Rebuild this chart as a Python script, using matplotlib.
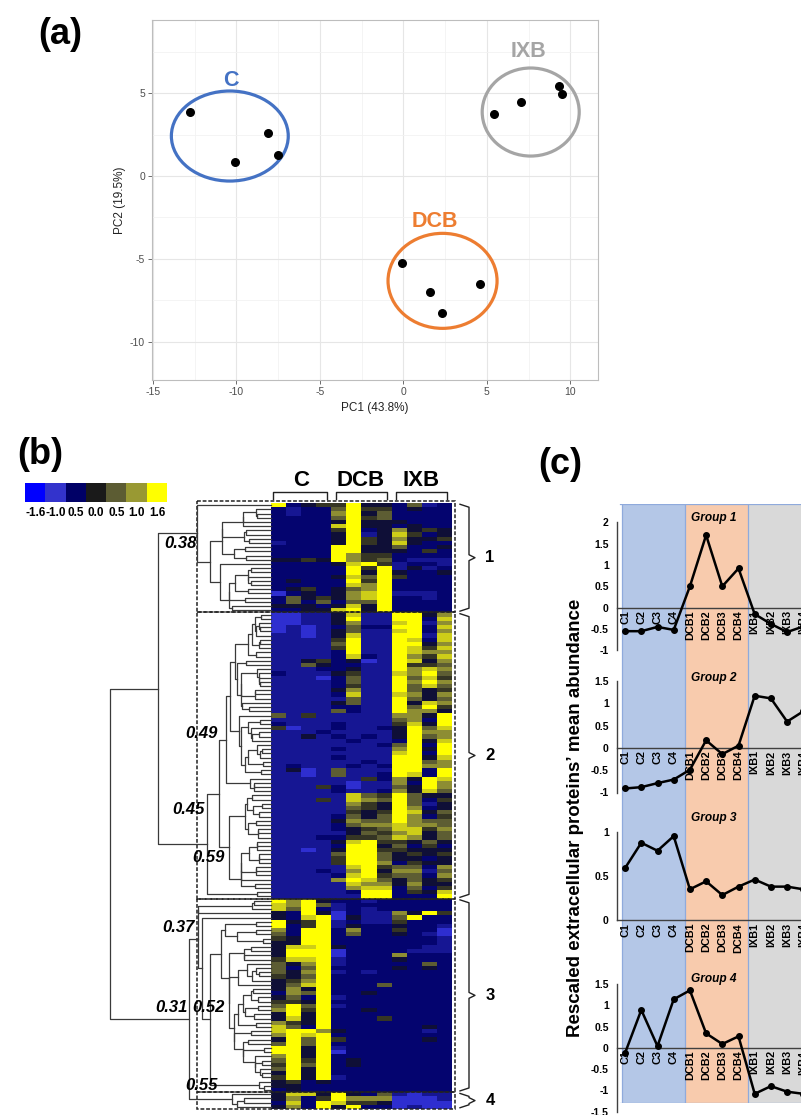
import numpy as np
import matplotlib
matplotlib.use("Agg")
import matplotlib.pyplot as plt
from matplotlib.patches import Ellipse, Rectangle
from matplotlib.colors import LinearSegmentedColormap, ListedColormap
import matplotlib.transforms as mtransforms

plt.rcParams['font.family'] = ['Liberation Sans', 'DejaVu Sans']
plt.rcParams['axes.unicode_minus'] = False

W, H = 801, 1115

# ---------------- data: panel (a) PCA ----------------
pca_groups = ['C', 'DCB', 'IXB']
pca_colors = ['#4472C4', '#ED7D31', '#A5A5A5']
pc1_C = [-12.8, -10.1, -8.1, -7.5]
pc2_C = [3.9, 0.85, 2.6, 1.3]
pc1_DCB = [-0.1, 1.6, 2.3, 4.6]
pc2_DCB = [-5.25, -7.0, -8.3, -6.5]
pc1_IXB = [5.45, 7.05, 9.3, 9.5]
pc2_IXB = [3.75, 4.45, 5.45, 4.95]
ell_cx = [-10.39, 2.35, 7.63]
ell_cy = [2.42, -6.33, 3.87]
ell_w = [7.0, 6.53, 5.81]
ell_h = [5.44, 5.74, 5.32]
lab_x = [-10.3, 1.9, 7.5]
lab_y = [5.8, -2.76, 7.5]
xticks_a = [-15, -10, -5, 0, 5, 10]
yticks_a = [-10, -5, 0, 5]

# ---------------- data: panel (b) heatmap ----------------
samples = ['C1', 'C2', 'C3', 'C4', 'DCB1', 'DCB2', 'DCB3', 'DCB4',
           'IXB1', 'IXB2', 'IXB3', 'IXB4']
col_groups = ['C', 'DCB', 'IXB']
legend_values = [-1.6, -1.0, -0.5, 0.0, 0.5, 1.0, 1.6]
legend_labels = ['-1.6', '-1.0', '0.5', '0.0', '0.5', '1.0', '1.6']
legend_colors = ['#0000FF', '#3333CC', '#000066', '#1A1A1A', '#5C5C33', '#999933', '#FFFF00']
level_values = [-1.6, -1.05, -0.72, -0.55, -0.2, 0.2, 0.5, 0.9, 1.3, 1.6]

group1_rows = [
    "934559443623", "323369553433", "323379463333", "333369563333", "333349444333",
    "333389443433", "333359347454", "333349248534", "333349547445", "233349548433",
    "333399446334", "333399444353", "333397553333", "445497563222", "333348952332",
    "333339592423", "333339494334", "333348695333", "343339593333", "333338793333",
    "345346793333", "134347892223", "364547893323", "363636693333", "444348493333",
    "334489493333"]
group2_rows = [
    "112248229947", "112249229938", "112247228927", "121236339938", "121246228937",
    "221248229928", "222259229838", "222269229947", "222259229858", "222239229877",
    "222238329758", "224534129847", "226433229556", "222334229787", "322245228796",
    "222136229685", "222236229797", "222235229686", "222247229645", "222238228747",
    "222226229646", "222246229487", "222233229695", "222263229774", "625222227749",
    "222222226739", "322232225849", "512232234968", "222322224977", "224232324967",
    "222223223948", "222222236939", "222232227949", "222222228939", "222232229948",
    "222222329967", "232223239977", "241262229939", "221262239839", "222222537498",
    "222221227397", "222531226497", "222232237486", "222228659644", "222528769635",
    "222227549624", "222226549734", "222225459846", "222236469735", "222247669766",
    "222236778776", "222234568857", "222224657846", "222335568746", "222248955464",
    "222239946353", "221249955444", "222269964545", "222259964434", "222259973544",
    "222228956637", "222327947726", "222238956637", "222279864645", "222228774744",
    "222227883635", "222223993548", "222222993339"]
group3_rows = [
    "979433233333", "879623333333", "869323233333", "439413227495", "438914226933",
    "945923225333", "935924334332", "739937335331", "639936334321", "549933333332",
    "449933333332", "488943333322", "499913333222", "499913337333", "588923334333",
    "647923333363", "636933334343", "647923233333", "546933333333", "457933333333",
    "468933363333", "474933333333", "376933433333", "463923333333", "554933333333",
    "696923333333", "795933433333", "494933333333", "484933353333", "754933333333",
    "863933333343", "899743333323", "798933333333", "496953333343", "696933333333",
    "994923333333", "994913333333", "794933333333", "695934333333", "596934333333",
    "694933333333", "494933333333", "594923333333", "453433333333", "443333333333",
    "343333333333"]
group4_rows = ["488494362122", "473597771112", "383985541111", "473949331211"]
row_groups = ['1', '2', '3', '4']
# cluster correlation annotations
corr_labels = ['0.38', '0.49', '0.45', '0.59', '0.37', '0.31', '0.52', '0.55']

# ---------------- data: panel (c) profiles ----------------
profile_g1 = [-0.55, -0.55, -0.45, -0.52, 0.5, 1.7, 0.5, 0.92, -0.15, -0.38, -0.57, -0.44]
profile_g2 = [-0.91, -0.88, -0.79, -0.71, -0.49, 0.17, -0.14, 0.05, 1.17, 1.11, 0.59, 0.82]
profile_g3 = [0.59, 0.875, 0.785, 0.95, 0.35, 0.44, 0.285, 0.38, 0.46, 0.38, 0.38, 0.35]
profile_g4 = [-0.12, 0.89, 0.04, 1.14, 1.35, 0.34, 0.09, 0.27, -1.08, -0.9, -1.03, -1.08]
band_colors = ['#B4C7E7', '#F8CBAD', '#D9D9D9']

# ======================================================
fig = plt.figure(figsize=(W / 100, H / 100), dpi=100)


def add_ax(x0, y0, x1, y1, **kw):
    return fig.add_axes([x0 / W, 1 - y1 / H, (x1 - x0) / W, (y1 - y0) / H], **kw)


# ---------------- panel (a) ----------------
axa = add_ax(152, 20, 598, 380)
axa.set_xlim(-15.05, 11.66)
axa.set_ylim(-12.32, 9.43)
axa.set_xticks(xticks_a)
axa.set_yticks(yticks_a)
axa.set_xticks([-12.5, -7.5, -2.5, 2.5, 7.5], minor=True)
axa.set_yticks([-7.5, -2.5, 2.5, 7.5], minor=True)
axa.grid(True, which='major', color='#E6E6E6', lw=0.8)
axa.grid(True, which='minor', color='#F2F2F2', lw=0.6)
axa.set_axisbelow(True)
axa.tick_params(which='major', length=3, width=0.6, color='#555555',
                labelsize=7.5, labelcolor='#4D4D4D', pad=2)
axa.tick_params(which='minor', length=0)
for s in axa.spines.values():
    s.set_color('#BDBDBD')
    s.set_linewidth(0.8)
pcx = [pc1_C, pc1_DCB, pc1_IXB]
pcy = [pc2_C, pc2_DCB, pc2_IXB]
for i, g in enumerate(pca_groups):
    axa.scatter(pcx[i], pcy[i], s=30, color='black', zorder=3)
    axa.add_patch(Ellipse((ell_cx[i], ell_cy[i]), ell_w[i], ell_h[i], fill=False,
                          ec=pca_colors[i], lw=2.3, zorder=2))
    axa.text(lab_x[i], lab_y[i], g, color=pca_colors[i], fontsize=15.5,
             fontweight='bold', ha='center', va='center')
axa.set_xlabel('PC1 (43.8%)', fontsize=8.5, color='#222222', labelpad=4)
axa.set_ylabel('PC2 (19.5%)', fontsize=8.5, color='#222222', labelpad=3)

# ---------------- panel (b) ----------------
lev = np.array(level_values)
blocks = [group1_rows, group2_rows, group3_rows, group4_rows]
mats = [np.array([[lev[int(c)] for c in r] for r in b]) for b in blocks]
heat = np.vstack(mats)
nrows, ncols = heat.shape

hm_x0, hm_x1, hm_y0, hm_y1 = 271, 451, 503, 1109
cmap = LinearSegmentedColormap.from_list(
    'by', [((v + 1.6) / 3.2, c) for v, c in zip(legend_values, legend_colors)])
axh = add_ax(hm_x0, hm_y0, hm_x1, hm_y1)
axh.imshow(heat, cmap=cmap, vmin=-1.6, vmax=1.6, aspect='auto',
           interpolation='nearest', extent=(0, ncols, nrows, 0))
axh.set_xlim(0, ncols)
axh.set_ylim(nrows, 0)
axh.axis('off')

colw = (hm_x1 - hm_x0) / ncols
rowh = (hm_y1 - hm_y0) / nrows


def px2col(x):
    return (x - hm_x0) / colw


def px2row(y):
    return (y - hm_y0) / rowh


# column group labels and brackets
for k, g in enumerate(col_groups):
    c0, c1 = 4 * k, 4 * k + 4
    axh.text((c0 + c1) / 2, px2row(481), g, fontsize=16, fontweight='bold',
             ha='center', va='center', clip_on=False)
    a0 = c0 + 0.15 if k == 0 else c0 + 0.3
    a1 = c1 - 0.25
    axh.plot([a0, a0, a1, a1], [px2row(499), px2row(492), px2row(492), px2row(499)],
             color='#222222', lw=1.0, clip_on=False)

# dashed group boxes, braces and labels
starts = np.cumsum([0] + [len(b) for b in blocks])
bx0, bx1 = px2col(197), px2col(455)
for k in range(len(blocks)):
    r0, r1 = starts[k], starts[k + 1]
    top = r0 if k > 0 else px2row(501)
    axh.add_patch(Rectangle((bx0, top), bx1 - bx0, r1 - top, fill=False,
                            ls=(0, (2.5, 1.2)), lw=1.1, ec='#222222', clip_on=False))
    t, b = r0 + 0.3, r1 - 0.3
    mid = (t + b) / 2
    d = min(0.7, (b - t) / 4)
    xa, xb, xc = px2col(460), px2col(469), px2col(475)
    axh.plot([xa, xb, xb, xc, xb, xb, xa],
             [t, t + d, mid - d, mid, mid + d, b - d, b],
             color='#222222', lw=1.0, clip_on=False)
    axh.text(px2col(490), mid, row_groups[k], fontsize=12, fontweight='bold',
             ha='center', va='center', clip_on=False)


# dendrogram (order-preserving average-linkage on heatmap rows)
def adjacent_tree(mat):
    clusters = [(i, [i], 0.0) for i in range(len(mat))]
    while len(clusters) > 1:
        best = None
        for k in range(len(clusters) - 1):
            a = mat[clusters[k][1]]
            b = mat[clusters[k + 1][1]]
            dd = np.sqrt(((a[:, None, :] - b[None, :, :]) ** 2).sum(-1)).mean()
            if best is None or dd < best[0]:
                best = (dd, k)
        dd, k = best
        na, ma, ha = clusters[k]
        nb, mb, hb = clusters[k + 1]
        h = max(dd, ha, hb)
        clusters[k:k + 2] = [((na, nb, h), ma + mb, h)]
    return clusters[0][0], clusters[0][2]


dcol = '#3A3A3A'


def draw_tree(ax, node, offset, scale):
    if isinstance(node, (int, np.integer)):
        return offset + node + 0.5, 0.0
    l, r, h = node
    yl, hl = draw_tree(ax, l, offset, scale)
    yr, hr = draw_tree(ax, r, offset, scale)
    hs = h * scale
    ax.plot([hl, hs, hs, hr], [yl, yl, yr, yr], color=dcol, lw=0.9, clip_on=False)
    return (yl + yr) / 2, hs


axd = add_ax(100, hm_y0, hm_x0, hm_y1)
px_per_h = 161.0
axd.set_xlim((hm_x0 - 100) / px_per_h, 0)
axd.set_ylim(nrows, 0)
axd.axis('off')
block_root_h = [(hm_x0 - x) / px_per_h for x in (197, 207, 198, 232)]
roots = []
for k, m in enumerate(mats):
    tree, rh = adjacent_tree(m)
    yk, hk = draw_tree(axd, tree, starts[k], block_root_h[k] / rh)
    roots.append((yk, hk))
h12 = (hm_x0 - 158) / px_per_h
h34 = (hm_x0 - 189) / px_per_h
hroot = (hm_x0 - 110) / px_per_h
(y1, g1h), (y2, g2h), (y3, g3h), (y4, g4h) = roots
axd.plot([g1h, h12, h12, g2h], [y1, y1, y2, y2], color=dcol, lw=0.9, clip_on=False)
axd.plot([g3h, h34, h34, g4h], [y3, y3, y4, y4], color=dcol, lw=0.9, clip_on=False)
y12, y34 = (y1 + y2) / 2, (y3 + y4) / 2
axd.plot([h12, hroot, hroot, h34], [y12, y12, y34, y34], color=dcol, lw=0.9, clip_on=False)

# legend colour bar
axl = add_ax(25, 483, 167, 502)
axl.imshow([list(range(len(legend_colors)))], cmap=ListedColormap(legend_colors),
           aspect='auto', interpolation='nearest', extent=(0, 7, 1, 0))
axl.axis('off')

# ---------------- overlay for texts ----------------
ov = fig.add_axes([0, 0, 1, 1], zorder=20)
ov.set_xlim(0, W)
ov.set_ylim(H, 0)
ov.axis('off')
ov.patch.set_alpha(0)
ov.text(60, 34, '(a)', fontsize=26, fontweight='bold', ha='center', va='center')
ov.text(40, 455, '(b)', fontsize=26, fontweight='bold', ha='center', va='center')
ov.text(560, 465, '(c)', fontsize=26, fontweight='bold', ha='center', va='center')
for k, t in enumerate(legend_labels):
    ov.text(25 + 20.3 * (k + 0.5), 513, t, fontsize=8.5, fontweight='bold',
            ha='center', va='center')
corr_pos = [(197, 543), (218, 733), (205, 809), (225, 858),
            (195, 928), (188, 1008), (225, 1008), (218, 1086)]
for t, (x, y) in zip(corr_labels, corr_pos):
    ov.text(x, y, t, fontsize=12, fontweight='bold', style='italic',
            ha='right', va='center')

# ---------------- panel (c) ----------------
cx0 = 617
step = 16.2
cx1 = cx0 + step * len(samples)
xlim_c = (-0.5, len(samples) - 0.5)
axb = add_ax(cx0, 504, cx1, 1103)
axb.set_xlim(*xlim_c)
axb.set_ylim(0, 1)
axb.axis('off')
band_edges = [-0.19, 3.7, 7.6, 11.5]
for k in range(3):
    axb.axvspan(band_edges[k], band_edges[k + 1], color=band_colors[k], lw=0)
    axb.axvline(band_edges[k], color='#8FAADC', lw=0.9)
axb.axhline(1, xmin=0.016, color='#8FAADC', lw=0.9)
axb.axhline(0, xmin=0.016, color='#8FAADC', lw=0.9)

profiles = [profile_g1, profile_g2, profile_g3, profile_g4]
ylims = [(-1, 2), (-1, 1.5), (0, 1), (-1.5, 1.5)]
yticks_c = [[-1, -0.5, 0, 0.5, 1, 1.5, 2], [-1, -0.5, 0, 0.5, 1, 1.5],
            [0, 0.5, 1], [-1.5, -1, -0.5, 0, 0.5, 1, 1.5]]
ax_pix = [(522.3, 650.4), (681, 792.5), (831.7, 920.3), (984, 1111.7)]
title_y = [2.1, 1.57, 1.15, 1.62]
x = np.arange(len(samples))
for k in range(4):
    ax = add_ax(cx0, ax_pix[k][0], cx1, ax_pix[k][1])
    ax.patch.set_alpha(0)
    ax.set_xlim(*xlim_c)
    ax.set_ylim(*ylims[k])
    for s in ['top', 'right', 'bottom']:
        ax.spines[s].set_visible(False)
    ax.spines['left'].set_color('#404040')
    ax.spines['left'].set_linewidth(1.0)
    ax.set_xticks([])
    ax.set_yticks(yticks_c[k])
    ax.set_yticklabels(['%g' % v for v in yticks_c[k]])
    ax.tick_params(axis='y', length=0, pad=6, labelsize=7.5)
    for lbl in ax.get_yticklabels():
        lbl.set_fontweight('bold')
    ax.axhline(0, color='#404040', lw=1.0, clip_on=False)
    ax.plot(x, profiles[k], color='black', lw=1.8, marker='o', markersize=4,
            clip_on=False, zorder=5)
    tr = mtransforms.offset_copy(ax.transData, fig, y=-2.5, units='dots')
    for i, name in enumerate(samples):
        ax.text(i, 0, name, transform=tr, rotation=90, ha='center', va='top',
                fontsize=7.8, fontweight='bold', zorder=4)
    ax.text(5.5, title_y[k], 'Group %d' % (k + 1), fontsize=8.6, fontweight='bold',
            style='italic', ha='center', va='center')

fig.text(576 / W, 1 - 818 / H, 'Rescaled extracellular proteins\u2019 mean abundance',
         rotation=90, fontsize=13.5, fontweight='bold', ha='center', va='center')

fig.savefig('out.png', dpi=100)
